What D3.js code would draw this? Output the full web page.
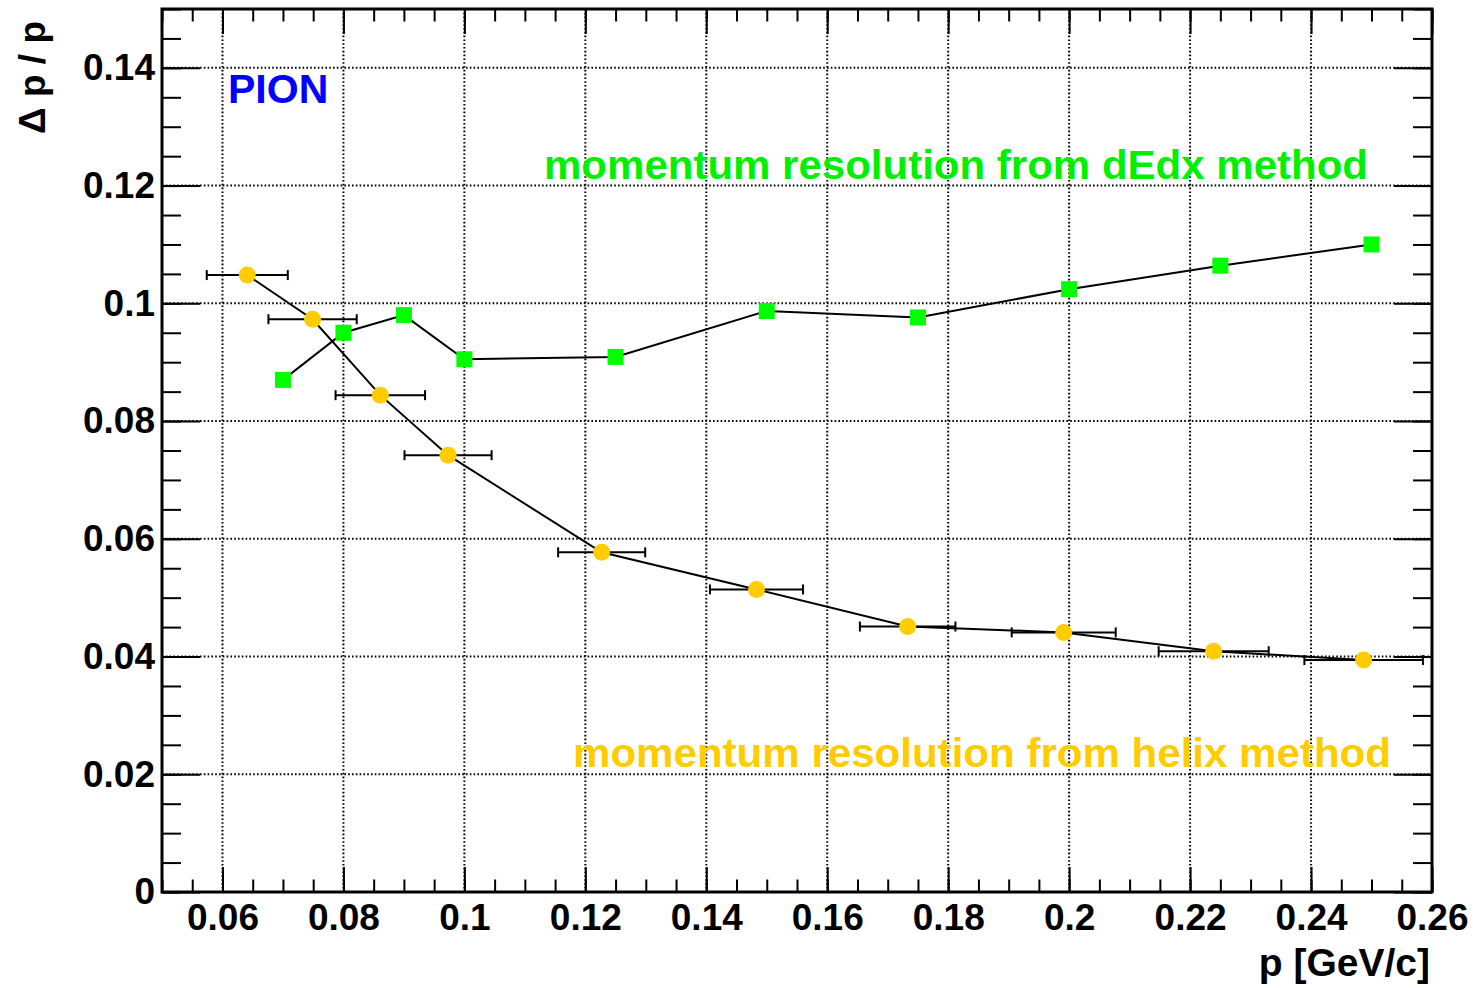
<!DOCTYPE html>
<html>
<head>
<meta charset="utf-8">
<script src="https://cdn.jsdelivr.net/npm/d3@7"></script>
<style>
  body { margin: 0; background: #fff; }
  svg text { font-family: "Liberation Sans", Arial, Helvetica, sans-serif; font-weight: bold; }
</style>
</head>
<body>
<svg id="chart" width="1473" height="988"></svg>
<script>
// ---- data ----
const helixP    = [0.0641, 0.0749, 0.0861, 0.0973, 0.1227, 0.1483, 0.1733, 0.1991, 0.2239, 0.2487];
const helixRes  = [0.1048, 0.0973, 0.0844, 0.0742, 0.0577, 0.0514, 0.0451, 0.0441, 0.0409, 0.0394];
const helixErrP = [0.0067, 0.0073, 0.0074, 0.0072, 0.0072, 0.0077, 0.0079, 0.0086, 0.0091, 0.0098];

const dedxP   = [0.07, 0.08, 0.09, 0.1, 0.125, 0.15, 0.175, 0.2, 0.225, 0.25];
const dedxRes = [0.0870, 0.0950, 0.0980, 0.0905, 0.0909, 0.0987, 0.0976, 0.1024, 0.1064, 0.1100];

const xTicks = [0.06, 0.08, 0.1, 0.12, 0.14, 0.16, 0.18, 0.2, 0.22, 0.24, 0.26];
const xTickLabels = ["0.06", "0.08", "0.1", "0.12", "0.14", "0.16", "0.18", "0.2", "0.22", "0.24", "0.26"];
const yTicks = [0, 0.02, 0.04, 0.06, 0.08, 0.1, 0.12, 0.14];
const yTickLabels = ["0", "0.02", "0.04", "0.06", "0.08", "0.1", "0.12", "0.14"];

const helix = helixP.map((p, i) => ({ x: p, y: helixRes[i], ex: helixErrP[i] }));
const dedx = dedxP.map((p, i) => ({ x: p, y: dedxRes[i] }));

// ---- frame ----
const svg = d3.select("#chart");
const fLeft = 162, fRight = 1432, fTop = 9, fBottom = 892;

const x = d3.scaleLinear().domain([0.05, 0.26]).range([fLeft, fRight]);
const y = d3.scaleLinear().domain([0, 0.15]).range([fBottom, fTop]);

const xMinor = d3.range(0.05, 0.2601, 0.005);
const yMinor = d3.range(0, 0.1501, 0.005);

// gridlines (dotted)
const grid = svg.append("g").attr("stroke", "#000").attr("stroke-width", 2).attr("stroke-dasharray", "1.6,2.2");
grid.selectAll(".gx").data(xTicks.filter(v => v < 0.259)).enter().append("line")
    .attr("x1", d => x(d)).attr("x2", d => x(d)).attr("y1", fTop).attr("y2", fBottom);
grid.selectAll(".gy").data(yTicks.filter(v => v > 0)).enter().append("line")
    .attr("x1", fLeft).attr("x2", fRight).attr("y1", d => y(d)).attr("y2", d => y(d));

const fmtX = d => xTickLabels[xTicks.indexOf(d)];
const fmtY = d => yTickLabels[yTicks.indexOf(d)];

// major / minor ticks on all four sides, pointing inward
function styleAxis(sel) {
  sel.select(".domain").remove();
  sel.selectAll(".tick line").attr("stroke", "#000").attr("stroke-width", 2);
  sel.selectAll("text").attr("fill", "#000").style("font-size", "37px");
}

svg.append("g").attr("transform", `translate(0,${fBottom})`)
    .call(d3.axisBottom(x).tickValues(xTicks).tickSize(-25).tickPadding(12).tickFormat(fmtX))
    .call(styleAxis);
svg.append("g").attr("transform", `translate(0,${fBottom})`)
    .call(d3.axisBottom(x).tickValues(xMinor).tickSize(-12.5).tickFormat(""))
    .call(styleAxis);
svg.append("g").attr("transform", `translate(0,${fTop})`)
    .call(d3.axisTop(x).tickValues(xTicks).tickSize(-25).tickFormat(""))
    .call(styleAxis);
svg.append("g").attr("transform", `translate(0,${fTop})`)
    .call(d3.axisTop(x).tickValues(xMinor).tickSize(-12.5).tickFormat(""))
    .call(styleAxis);

svg.append("g").attr("transform", `translate(${fLeft},0)`)
    .call(d3.axisLeft(y).tickValues(yTicks).tickSize(-38).tickPadding(7).tickFormat(fmtY))
    .call(styleAxis);
svg.append("g").attr("transform", `translate(${fLeft},0)`)
    .call(d3.axisLeft(y).tickValues(yMinor).tickSize(-19).tickFormat(""))
    .call(styleAxis);
svg.append("g").attr("transform", `translate(${fRight},0)`)
    .call(d3.axisRight(y).tickValues(yTicks).tickSize(-38).tickFormat(""))
    .call(styleAxis);
svg.append("g").attr("transform", `translate(${fRight},0)`)
    .call(d3.axisRight(y).tickValues(yMinor).tickSize(-19).tickFormat(""))
    .call(styleAxis);

svg.append("rect")
    .attr("x", fLeft).attr("y", fTop).attr("width", fRight - fLeft).attr("height", fBottom - fTop)
    .attr("fill", "none").attr("stroke", "#000").attr("stroke-width", 3);

// ---- series ----
const line = d3.line().x(d => x(d.x)).y(d => y(d.y));

svg.append("path").datum(dedx)
    .attr("d", line).attr("fill", "none").attr("stroke", "#000").attr("stroke-width", 2);
svg.append("path").datum(helix)
    .attr("d", line).attr("fill", "none").attr("stroke", "#000").attr("stroke-width", 2);

// helix x error bars
const eb = svg.append("g").attr("stroke", "#000").attr("stroke-width", 2);
eb.selectAll(".bar").data(helix).enter().append("line")
    .attr("x1", d => x(d.x - d.ex)).attr("x2", d => x(d.x + d.ex))
    .attr("y1", d => y(d.y)).attr("y2", d => y(d.y));
eb.selectAll(".capL").data(helix).enter().append("line")
    .attr("x1", d => x(d.x - d.ex)).attr("x2", d => x(d.x - d.ex))
    .attr("y1", d => y(d.y) - 5).attr("y2", d => y(d.y) + 5);
eb.selectAll(".capR").data(helix).enter().append("line")
    .attr("x1", d => x(d.x + d.ex)).attr("x2", d => x(d.x + d.ex))
    .attr("y1", d => y(d.y) - 5).attr("y2", d => y(d.y) + 5);

svg.selectAll(".sq").data(dedx).enter().append("rect")
    .attr("x", d => x(d.x) - 8).attr("y", d => y(d.y) - 8)
    .attr("width", 16).attr("height", 16).attr("fill", "#00ff00");

svg.selectAll(".dot").data(helix).enter().append("circle")
    .attr("cx", d => x(d.x)).attr("cy", d => y(d.y)).attr("r", 8.5).attr("fill", "#ffcc00");

// ---- labels ----
svg.append("text").attr("x", 228).attr("y", 103)
    .attr("fill", "#0000ff").style("font-size", "41px").text("PION");

svg.append("text").attr("x", 544).attr("y", 179)
    .attr("fill", "#00f000").style("font-size", "40px")
    .attr("textLength", 824).attr("lengthAdjust", "spacingAndGlyphs")
    .text("momentum resolution from dEdx method");

svg.append("text").attr("x", 573).attr("y", 767)
    .attr("fill", "#ffcc00").style("font-size", "40px")
    .attr("textLength", 818).attr("lengthAdjust", "spacingAndGlyphs")
    .text("momentum resolution from helix method");

svg.append("text").attr("x", 1430).attr("y", 976).attr("text-anchor", "end")
    .attr("fill", "#000").style("font-size", "39px").text("p [GeV/c]");

svg.append("text")
    .attr("transform", "translate(45,21) rotate(-90)")
    .attr("text-anchor", "end").attr("fill", "#000").style("font-size", "37px")
    .text("\u0394 p / p");
</script>
</body>
</html>
